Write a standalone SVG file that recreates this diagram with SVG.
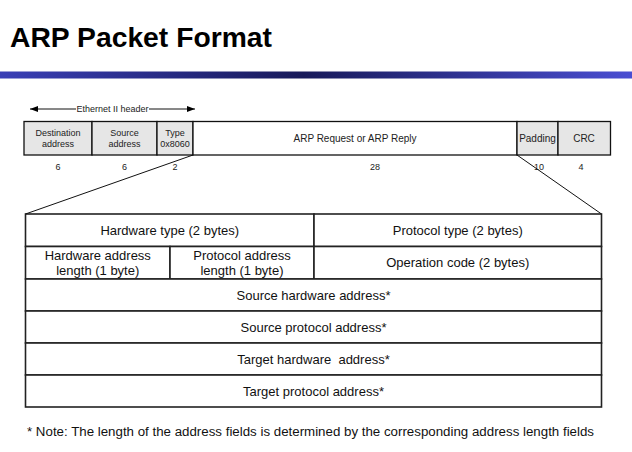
<svg xmlns="http://www.w3.org/2000/svg" width="632" height="452" viewBox="0 0 632 452">
  <defs>
    <linearGradient id="barGrad" x1="0" y1="0" x2="1" y2="0">
      <stop offset="0" stop-color="#3a3fb6"/>
      <stop offset="0.48" stop-color="#181a5a"/>
      <stop offset="1" stop-color="#4a4ed2"/>
    </linearGradient>
    <marker id="arrow" viewBox="0 0 8 6" refX="8" refY="3" markerWidth="8" markerHeight="6" markerUnits="userSpaceOnUse" orient="auto">
      <path d="M0,0 L8,3 L0,6 z" fill="#000"/>
    </marker>
    <style>
      text { font-family: "Liberation Sans", Arial, sans-serif; fill: #000; }
      .title { font-size: 28px; font-weight: bold; }
      .small { font-size: 9px; text-anchor: middle; fill: #222; }
      .mid { font-size: 10px; text-anchor: middle; fill: #222; }
      .cell { font-size: 13px; text-anchor: middle; fill: #111; }
      .note { font-size: 12px; fill: #111; }
      .hdr { fill: #e6e6e6; stroke: #111; stroke-width: 1.3; }
      .plain { fill: #fff; stroke: #111; stroke-width: 1.3; }
      .row { fill: #fff; stroke: #222; stroke-width: 1.6; }
      .conn { stroke: #111; stroke-width: 1; fill: none; }
    </style>
  </defs>

  <rect width="632" height="452" fill="#fff"/>

  <!-- heading and rule -->
  <text class="title" x="10" y="47" textLength="262" lengthAdjust="spacingAndGlyphs">ARP Packet Format</text>
  <rect x="0" y="71.5" width="632" height="7" fill="url(#barGrad)"/>

  <!-- Ethernet frame fields -->
  <g id="eth-header-label">
    <text class="small" x="112.5" y="112">Ethernet II header</text>
  </g>
  <g id="field-dst">
    <rect class="hdr" x="24" y="121.5" width="68" height="33.5"/>
    <text class="small" x="58" y="135.5">Destination</text>
    <text class="small" x="58" y="147">address</text>
    <text class="small" x="58" y="170">6</text>
  </g>
  <g id="field-src">
    <rect class="hdr" x="92" y="121.5" width="65" height="33.5"/>
    <text class="small" x="124.5" y="135.5">Source</text>
    <text class="small" x="124.5" y="147">address</text>
    <text class="small" x="124.5" y="170">6</text>
  </g>
  <g id="field-type">
    <rect class="hdr" x="157" y="121.5" width="36" height="33.5"/>
    <text class="small" x="175" y="135.5">Type</text>
    <text class="small" x="175" y="147">0x8060</text>
    <text class="small" x="175" y="170">2</text>
  </g>
  <g id="field-arp">
    <rect class="plain" x="193" y="121.5" width="324" height="33.5"/>
    <text class="mid" x="355" y="141.5">ARP Request or ARP Reply</text>
    <text class="small" x="375" y="170">28</text>
  </g>
  <g id="field-padding">
    <rect class="hdr" x="517" y="121.5" width="41" height="33.5"/>
    <text class="mid" x="537.5" y="141.5">Padding</text>
    <text class="small" x="539" y="170">10</text>
  </g>
  <g id="field-crc">
    <rect class="hdr" x="558" y="121.5" width="52.5" height="33.5"/>
    <text class="mid" x="584" y="141.5">CRC</text>
    <text class="small" x="581" y="170">4</text>
  </g>

  <!-- ARP message layout -->
  <g id="arp-hw-type">
    <rect class="row" x="25.5" y="214" width="288.5" height="32.5"/>
    <text class="cell" x="169.75" y="234.8">Hardware type (2 bytes)</text>
  </g>
  <g id="arp-proto-type">
    <rect class="row" x="314" y="214" width="287.5" height="32.5"/>
    <text class="cell" x="457.75" y="234.8">Protocol type (2 bytes)</text>
  </g>
  <g id="arp-hw-len">
    <rect class="row" x="25.5" y="246.5" width="144.5" height="32.5"/>
    <text class="cell" x="97.75" y="259.5">Hardware address</text>
    <text class="cell" x="97.75" y="274.5">length (1 byte)</text>
  </g>
  <g id="arp-proto-len">
    <rect class="row" x="170" y="246.5" width="144" height="32.5"/>
    <text class="cell" x="242" y="259.5">Protocol address</text>
    <text class="cell" x="242" y="274.5">length (1 byte)</text>
  </g>
  <g id="arp-opcode">
    <rect class="row" x="314" y="246.5" width="287.5" height="32.5"/>
    <text class="cell" x="457.75" y="267.3">Operation code (2 bytes)</text>
  </g>
  <g id="arp-sha">
    <rect class="row" x="25.5" y="279" width="576" height="32"/>
    <text class="cell" x="313.5" y="299.5">Source hardware address*</text>
  </g>
  <g id="arp-spa">
    <rect class="row" x="25.5" y="311" width="576" height="32"/>
    <text class="cell" x="313.5" y="331.5">Source protocol address*</text>
  </g>
  <g id="arp-tha">
    <rect class="row" x="25.5" y="343" width="576" height="32"/>
    <text class="cell" x="313.5" y="363.5" style="white-space:pre">Target hardware  address*</text>
  </g>
  <g id="arp-tpa">
    <rect class="row" x="25.5" y="375" width="576" height="32"/>
    <text class="cell" x="313.5" y="395.5">Target protocol address*</text>
  </g>

  <!-- connectors: header span arrows and expansion lines -->
  <g id="connectors">
    <line class="conn" x1="76" y1="109" x2="30" y2="109" marker-end="url(#arrow)"/>
    <line class="conn" x1="149" y1="109" x2="195" y2="109" marker-end="url(#arrow)"/>
    <line class="conn" x1="193" y1="155" x2="25.5" y2="214"/>
    <line class="conn" x1="517" y1="155" x2="601.5" y2="214"/>
  </g>

  <text class="note" x="27" y="435.5" textLength="567" lengthAdjust="spacingAndGlyphs">* Note: The length of the address fields is determined by the corresponding address length fields</text>
</svg>
